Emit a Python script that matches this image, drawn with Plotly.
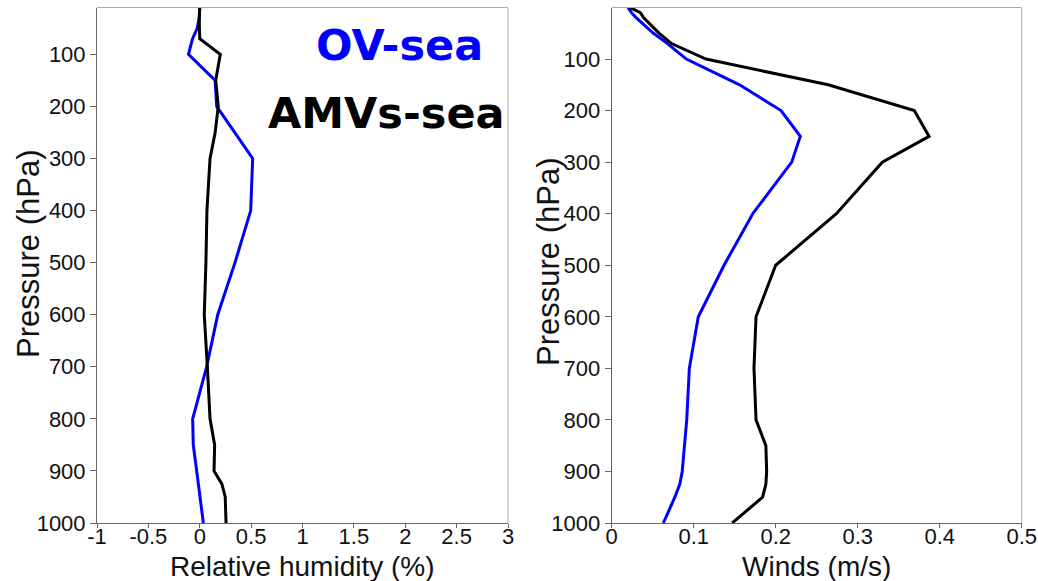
import plotly.graph_objects as go

# ---------------- data ----------------
p_rh = [10, 20, 30, 50, 70, 100, 150, 200, 250, 300, 400, 500, 600, 700,
        800, 850, 900, 925, 950, 1000]
rh_ov = [0.0, 0.0, -0.005, -0.025, -0.07, -0.11, 0.15, 0.165, 0.343, 0.515,
         0.496, 0.343, 0.175, 0.067, -0.069, -0.063, -0.030, -0.014, 0.002, 0.035]
rh_amv = [0.0, -0.003, -0.005, -0.003, 0.0, 0.2, 0.155, 0.18, 0.15, 0.10,
          0.07, 0.06, 0.044, 0.074, 0.10, 0.145, 0.139, 0.215, 0.248, 0.256]

p_wind = [0, 10, 20, 30, 50, 70, 100, 150, 200, 250, 300, 400, 500, 600, 700,
          800, 850, 900, 925, 950, 1000]
wind_ov = [0.020, 0.024, 0.030, 0.037, 0.051, 0.068, 0.091, 0.156, 0.2065, 0.23,
           0.2195, 0.172, 0.137, 0.1056, 0.0947, 0.0915, 0.089, 0.086, 0.083,
           0.077, 0.063]
wind_amv = [0.022, 0.035, 0.039, 0.045, 0.058, 0.073, 0.115, 0.264, 0.369, 0.387,
            0.330, 0.274, 0.200, 0.176, 0.1735, 0.176, 0.188, 0.189, 0.188,
            0.184, 0.147]

p_ticks = [100, 200, 300, 400, 500, 600, 700, 800, 900, 1000]
p_tick_labels = [str(v) for v in p_ticks]
rh_ticks = [-1, -0.5, 0, 0.5, 1, 1.5, 2, 2.5, 3]
rh_tick_labels = ["-1", "-0.5", "0", "0.5", "1", "1.5", "2", "2.5", "3"]
wind_ticks = [0, 0.1, 0.2, 0.3, 0.4, 0.5]
wind_tick_labels = ["0", "0.1", "0.2", "0.3", "0.4", "0.5"]

series_names = ["OV-sea", "AMVs-sea"]
series_colors = ["#0000ff", "#000000"]

# ---------------- figure ----------------
W, H = 1038, 581
fig = go.Figure()

fig.add_trace(go.Scatter(x=rh_ov, y=p_rh, mode="lines", name=series_names[0],
                         line=dict(color=series_colors[0], width=3),
                         xaxis="x", yaxis="y"))
fig.add_trace(go.Scatter(x=rh_amv, y=p_rh, mode="lines", name=series_names[1],
                         line=dict(color=series_colors[1], width=3),
                         xaxis="x", yaxis="y"))
fig.add_trace(go.Scatter(x=wind_ov, y=p_wind, mode="lines", name=series_names[0],
                         line=dict(color=series_colors[0], width=3),
                         xaxis="x2", yaxis="y2"))
fig.add_trace(go.Scatter(x=wind_amv, y=p_wind, mode="lines", name=series_names[1],
                         line=dict(color=series_colors[1], width=3),
                         xaxis="x2", yaxis="y2"))

L1, R1 = 97 / W, 508 / W
L2, R2 = 611.7 / W, 1021.7 / W
B, T = 1 - 523 / H, 1 - 7.5 / H

tickfont = dict(family="Liberation Sans, Arial, sans-serif", size=22, color="#111")
axis_common = dict(showgrid=False, zeroline=False, showline=True, automargin=False,
                   linecolor="#666", linewidth=1, ticks="outside",
                   tickcolor="#666", tickfont=tickfont, fixedrange=True)

fig.update_layout(
    width=W, height=H,
    margin=dict(l=0, r=0, t=0, b=0),
    paper_bgcolor="white", plot_bgcolor="white",
    showlegend=False,
    xaxis=dict(domain=[L1, R1], range=[-1, 3], tickvals=rh_ticks, ticklen=4,
               ticklabelstandoff=-10,
               ticktext=rh_tick_labels, anchor="y", **axis_common),
    yaxis=dict(domain=[B, T], range=[1000, 10], tickvals=p_ticks,
               ticklen=6, ticktext=p_tick_labels, anchor="x", **axis_common),
    xaxis2=dict(domain=[L2, R2], range=[0, 0.5], tickvals=wind_ticks, ticklen=4,
                ticklabelstandoff=-10,
                ticktext=wind_tick_labels, anchor="y2", **axis_common),
    yaxis2=dict(domain=[B, T], range=[1000, 0], tickvals=p_ticks,
                ticklen=6, ticktext=p_tick_labels, anchor="x2", **axis_common),
)

# light grey top/right frame lines
for (l, r) in [(L1, R1), (L2, R2)]:
    fig.add_shape(type="line", xref="paper", yref="paper", x0=l, x1=r, y0=T, y1=T,
                  line=dict(color="#aaa", width=1))
    fig.add_shape(type="line", xref="paper", yref="paper", x0=r, x1=r, y0=B, y1=T,
                  line=dict(color="#aaa", width=1))

title_font = dict(family="Liberation Sans, Arial, sans-serif", color="#111")
ann = [
    dict(text="Relative humidity (%)", x=(L1 + R1) / 2, y=1 - 566 / H,
         font=dict(size=28, **title_font)),
    dict(text="Winds (m/s)", x=(L2 + R2) / 2, y=1 - 566 / H,
         font=dict(size=28, **title_font)),
    dict(text="Pressure (hPa)", x=28 / W, y=1 - 254 / H, textangle=-90,
         font=dict(size=31, **title_font)),
    dict(text="Pressure (hPa)", x=548 / W, y=1 - 262 / H, textangle=-90,
         font=dict(size=31, **title_font)),
    dict(text="<b>" + series_names[0] + "</b>", x=399 / W, y=1 - 45 / H,
         font=dict(size=43, family="Comic Sans MS, DejaVu Sans", color=series_colors[0])),
    dict(text="<b>" + series_names[1] + "</b>", x=386 / W, y=1 - 113 / H,
         font=dict(size=43, family="Comic Sans MS, DejaVu Sans", color=series_colors[1])),
]
for a in ann:
    fig.add_annotation(xref="paper", yref="paper", showarrow=False,
                       xanchor="center", yanchor="middle", **a)

fig.write_html("out.html")
